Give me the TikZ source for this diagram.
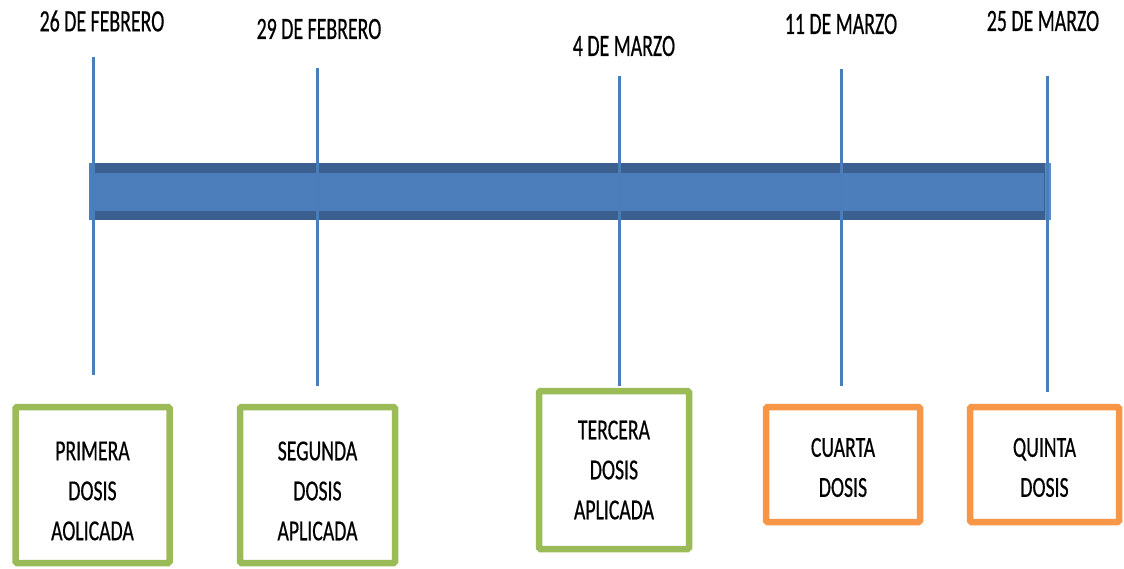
\documentclass[tikz,border=0pt]{standalone}
\usepackage{fontspec}
\usepackage{tikz}
\newfontfamily\datefont[FakeStretch=0.64, FakeBold=0.5]{Carlito}
\newfontfamily\dosefont[FakeStretch=0.68, FakeBold=0.5]{Carlito}
\definecolor{bardark}{HTML}{3B5F8F}
\definecolor{barlight}{HTML}{4C7EBC}
\definecolor{tickblue}{HTML}{4A7EBB}
\definecolor{boxgreen}{HTML}{9BBB59}
\definecolor{boxorange}{HTML}{F79646}
\tikzset{
	tick/.style={line width=3pt, color=tickblue},
	datelabel/.style={font=\datefont\fontsize{31}{34}\selectfont, inner sep=0pt},
	dosebox/.style={line width=6.5pt, rounded corners=1.5pt, minimum width=#1, inner sep=0pt},
	dosetext/.style={align=center, inner sep=0pt, font=\dosefont\fontsize{29}{40}\selectfont},
}

\begin{document}
\begin{tikzpicture}[x=1pt, y=-1pt]
		%%%%% START %%%%%
		\useasboundingbox (0, 0) rectangle (1124, 568);
		
		% barra
		\fill[bardark] (89, 163) rectangle (1051, 220);
		\fill[barlight] (89, 173) rectangle (1044, 211);
		\fill[barlight] (89, 163) rectangle (95, 220);
		\fill[barlight!90!white] (1045, 163) rectangle (1051, 220);
		
		% fechas
		\node[datelabel] (f1) at (102, 21) {26 DE FEBRERO};
		\node[datelabel] (f2) at (319, 29) {29 DE FEBRERO};
		\node[datelabel] (f3) at (624, 46) {4 DE MARZO};
		\node[datelabel] (f4) at (841, 24) {11 DE MARZO};
		\node[datelabel] (f5) at (1043, 21) {25 DE MARZO};
		
		% lineas
		\coordinate (t1) at (93, 57);    \coordinate (b1) at (93, 375);
		\coordinate (t2) at (317, 68);   \coordinate (b2) at (317, 386);
		\coordinate (t3) at (619, 76);   \coordinate (b3) at (619, 386);
		\coordinate (t4) at (841, 69);   \coordinate (b4) at (841, 386);
		\coordinate (t5) at (1047, 76);  \coordinate (b5) at (1047, 392);
		\draw[tick] (t1) -- (b1);
		\draw[tick] (t2) -- (b2);
		\draw[tick] (t3) -- (b3);
		\draw[tick] (t4) -- (b4);
		\draw[tick] (t5) -- (b5);
		
		% dosis
		\node[dosebox=154pt, draw=boxgreen, minimum height=156pt] (d1) at (92.5, 485) {};
		\node[dosebox=155pt, draw=boxgreen, minimum height=156pt] (d2) at (317.5, 485) {};
		\node[dosebox=150pt, draw=boxgreen, minimum height=158pt] (d3) at (614, 470) {};
		\node[dosebox=154pt, draw=boxorange, minimum height=115pt] (d4) at (843, 464.5) {};
		\node[dosebox=149pt, draw=boxorange, minimum height=115pt] (d5) at (1044.5, 464.5) {};
		\node[dosetext] (d1t) at ([yshift=-6pt]d1.center) {PRIMERA\\DOSIS\\AOLICADA};
		\node[dosetext] (d2t) at ([yshift=-6pt]d2.center) {SEGUNDA\\DOSIS\\APLICADA};
		\node[dosetext] (d3t) at (d3.center) {TERCERA\\DOSIS\\APLICADA};
		\node[dosetext] (d4t) at ([yshift=-3pt]d4.center) {CUARTA\\DOSIS};
		\node[dosetext] (d5t) at ([yshift=-3pt]d5.center) {QUINTA\\DOSIS};
		
		%%%%% END %%%%%
	\end{tikzpicture}
\end{document}
